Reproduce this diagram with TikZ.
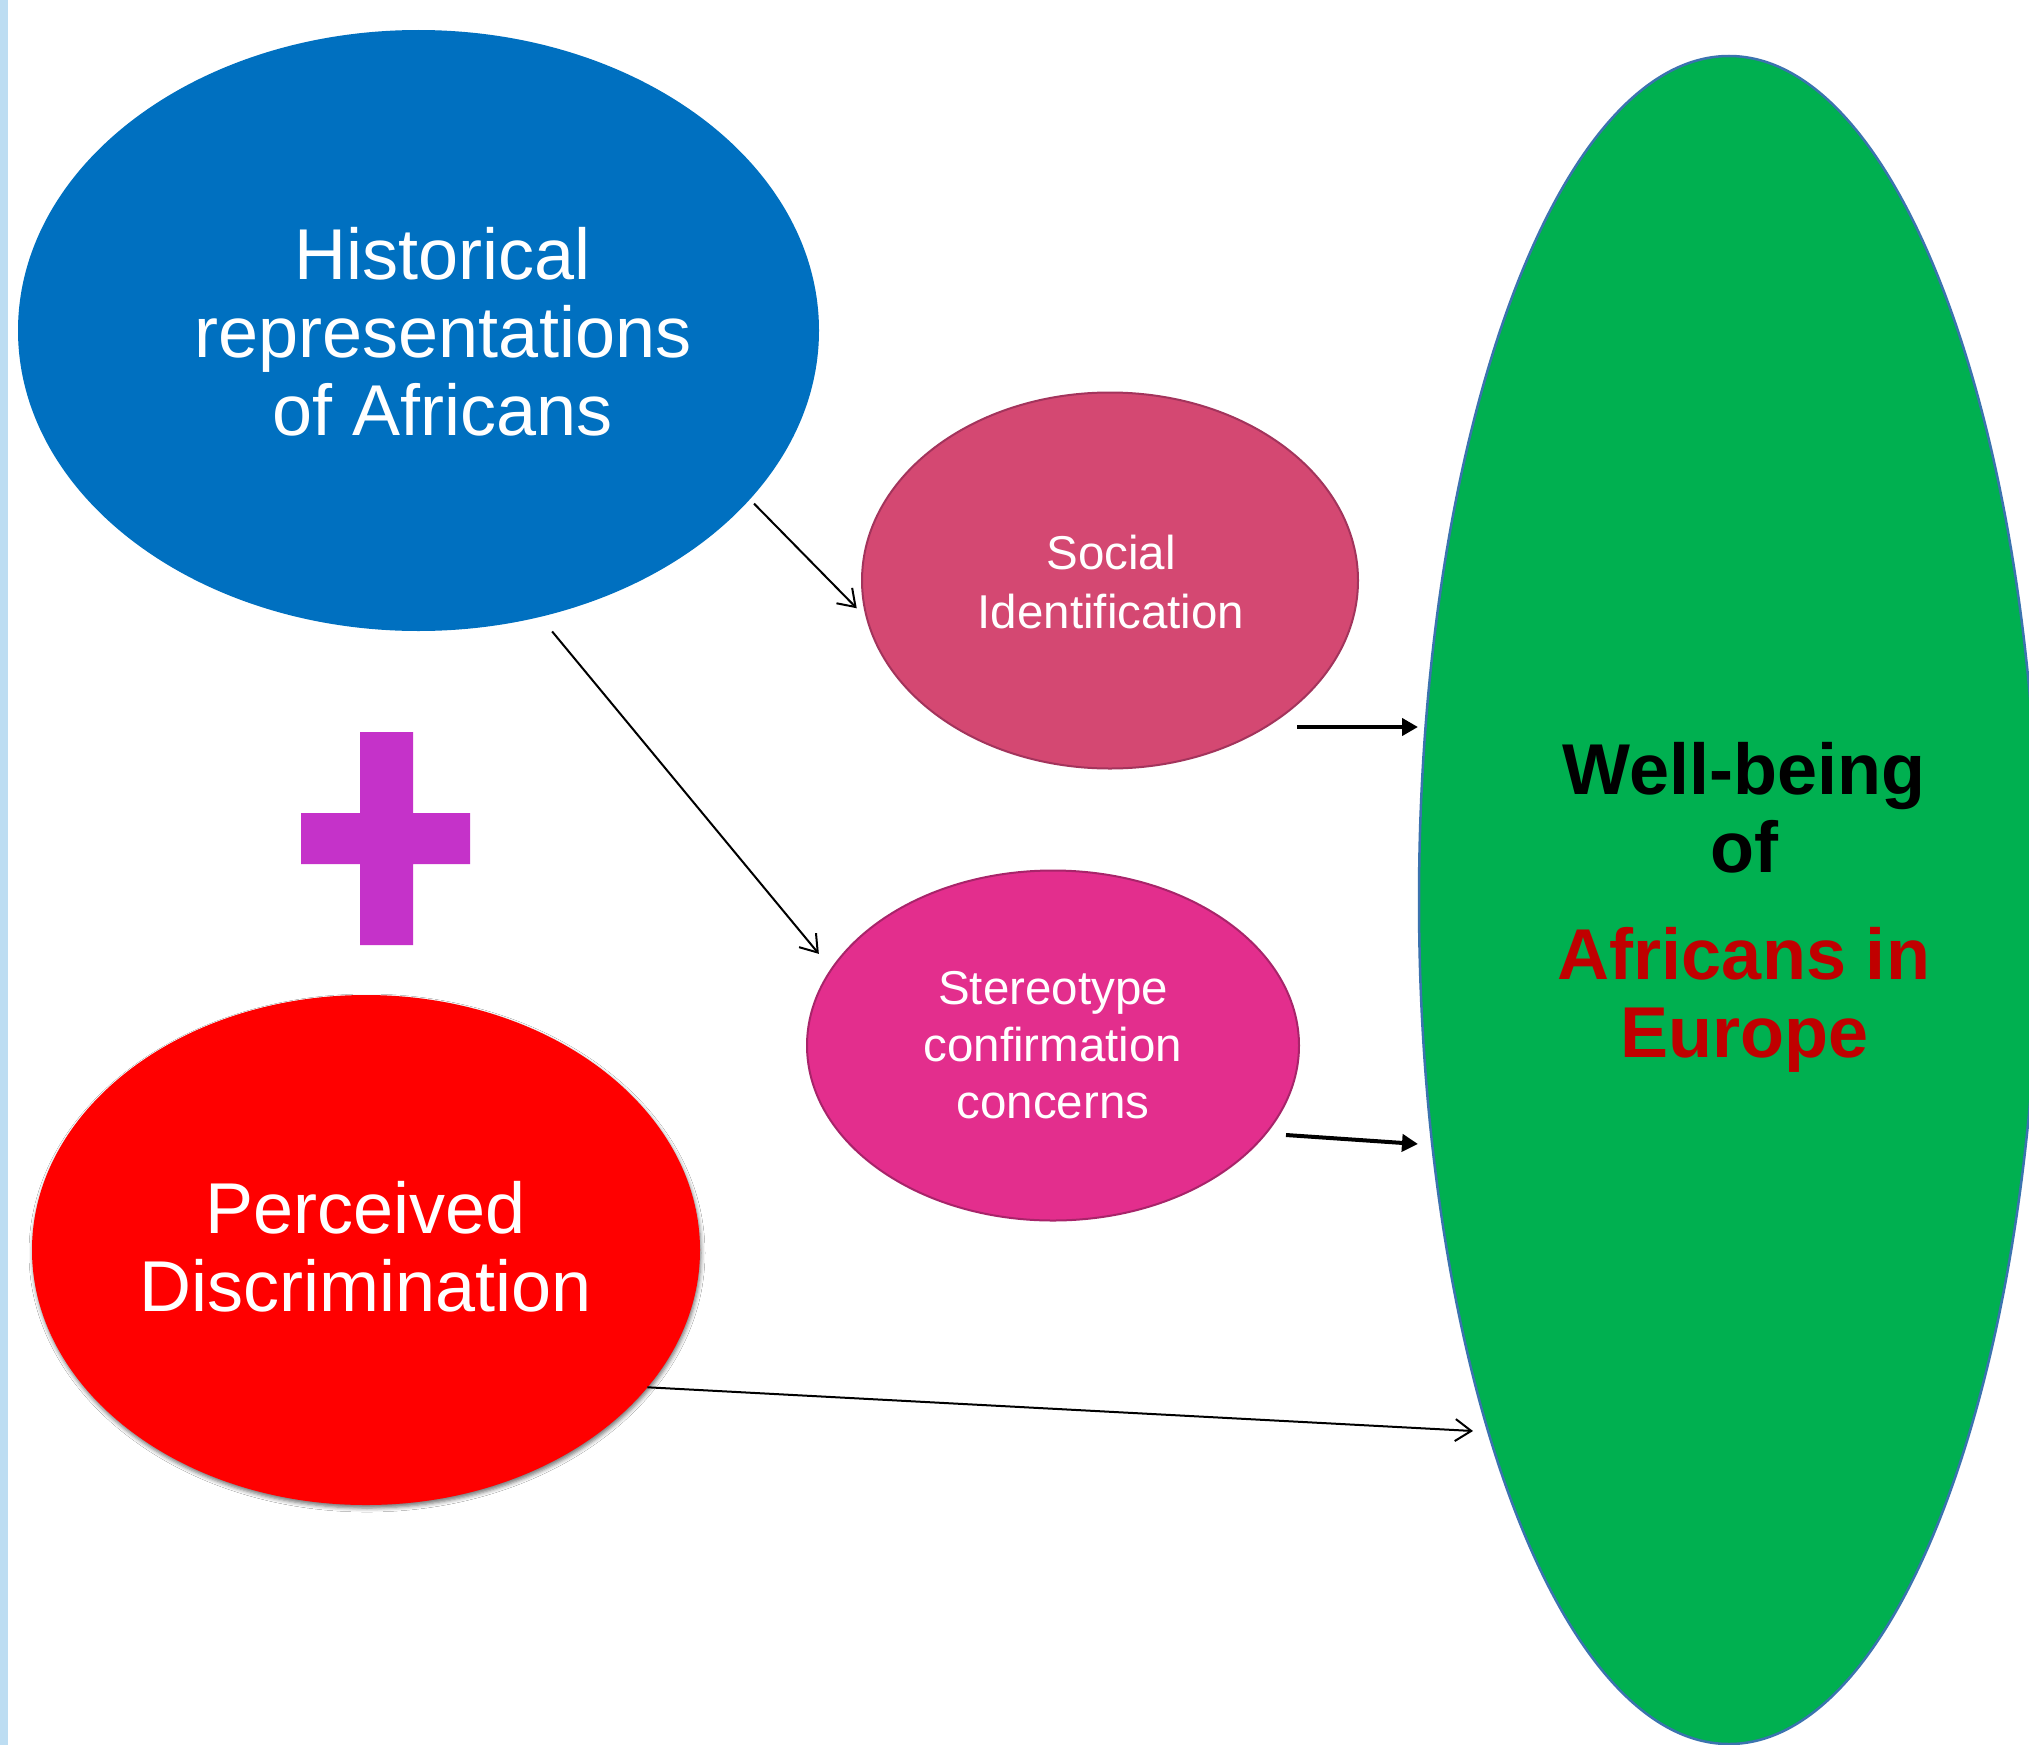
\documentclass[tikz,border=0pt]{standalone}
\usepackage{fontspec}
\setmainfont{Liberation Sans}
\usetikzlibrary{shapes.geometric,arrows.meta,shadows.blur}
\definecolor{histblue}{HTML}{0070C0}
\definecolor{socpink}{HTML}{D44872}
\definecolor{socedge}{HTML}{A3345C}
\definecolor{stermag}{HTML}{E32E8D}
\definecolor{steredge}{HTML}{A8246A}
\definecolor{discred}{HTML}{FF0000}
\definecolor{wellgreen}{HTML}{00B050}
\definecolor{welledge}{HTML}{3B73AF}
\definecolor{plusmag}{HTML}{C532C9}
\definecolor{stripblue}{HTML}{BDDDF2}
\definecolor{afrred}{HTML}{C00000}
\begin{document}
\begin{tikzpicture}[x=1pt,y=-1pt,
  blob/.style={ellipse, inner sep=0pt, outer sep=0pt},
  bigtext/.style={align=center, text=white, font=\fontsize{72}{78}\selectfont},
  smalltext/.style={align=center, text=white, font=\fontsize{47.5}{59}\selectfont},
  thinarrow/.style={line width=2pt, -{Straight Barb[length=16pt,width=22pt]}},
  thickarrow/.style={line width=4pt, -{Triangle[length=16pt,width=17pt]}}]
\useasboundingbox (0,0) rectangle (2029,1745);
\fill[white] (0,0) rectangle (2029,1745);
\fill[stripblue] (0,0) rectangle (8,1745);
% ellipses
\node[blob, fill=histblue, minimum width=801pt, minimum height=601pt] (hist) at (418.5,330.5) {};
\node[blob, fill=socpink, draw=socedge, line width=2pt, minimum width=496pt, minimum height=376pt] (social) at (1110,580.5) {};
\node[blob, fill=stermag, draw=steredge, line width=2pt, minimum width=492pt, minimum height=350pt] (stereo) at (1053,1045.5) {};
\node[blob, fill=discred, minimum width=668pt, minimum height=510pt,
  blur shadow={shadow xshift=1pt, shadow yshift=-3pt, shadow blur radius=4pt, shadow opacity=55}] (disc) at (366,1250) {};
\node[blob, fill=wellgreen, draw=welledge, line width=2.5pt, minimum width=620pt, minimum height=1688pt] (well) at (1729,900) {};
% plus sign
\fill[plusmag] (360,732) -- (413,732) -- (413,813) -- (470,813) -- (470,864) -- (413,864)
  -- (413,945) -- (360,945) -- (360,864) -- (301,864) -- (301,813) -- (360,813) -- cycle;
% texts
\node[bigtext] (histT) at (443,331.5) {Historical\\representations\\of Africans};
\node[smalltext] (socialT) at (1111,582) {Social\\Identification};
\node[smalltext, font=\fontsize{47.5}{57}\selectfont] (stereoT) at (1053,1045) {Stereotype\\confirmation\\concerns};
\node[bigtext] (discT) at (366,1246.5) {Perceived\\Discrimination};
\node[align=center, font=\fontsize{72}{78}\selectfont\bfseries] (wellT) at (1744,907)
  {Well-being\\of\\[29pt]\textcolor{afrred}{Africans in}\\\textcolor{afrred}{Europe}};
% connectors
\coordinate (s3) at (1297,727);
\coordinate (s4) at (1286,1135);
\draw[thinarrow, shorten <=6pt, shorten >=15pt] (hist.-27.4) -- (social.189.2);
\draw[thinarrow, shorten <=19pt, shorten >=20pt] (hist.-67.5) -- (stereo.161.3);
\draw[thickarrow] (s3) -- ([shift={(-1,-173)}]well.west);
\draw[thickarrow] (s4) -- ([shift={(-1,244)}]well.west);
\draw[thinarrow] (disc.-26.6) -- ([shift={(54,531)}]well.west);
\end{tikzpicture}
\end{document}
